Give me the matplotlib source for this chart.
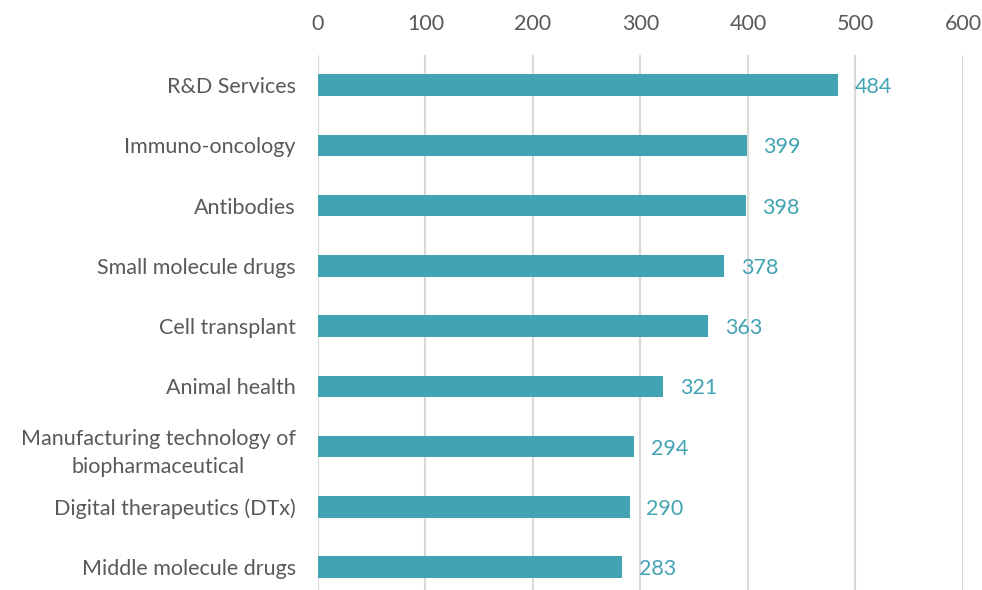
import matplotlib.pyplot as plt

plt.rcParams['font.family'] = ['Lato', 'DejaVu Sans']

# dados
categorias = ["R&D Services", "Immuno-oncology", "Antibodies", "Small molecule drugs",
              "Cell transplant", "Animal health",
              "Manufacturing technology of\nbiopharmaceutical",
              "Digital therapeutics (DTx)", "Middle molecule drugs"]
valores = [484, 399, 398, 378, 363, 321, 294, 290, 283]
ticks_x = [0, 100, 200, 300, 400, 500, 600]

cor_barra = "#42A3B3"
cor_texto = "#595959"
tam = 15.5

fig = plt.figure(figsize=(9.82, 5.90), dpi=100)
ax = fig.add_axes([0.3238, 0.0, 0.6568, 0.9068])

pos = list(range(len(categorias)))
ax.barh(pos, valores, height=0.36, color=cor_barra, zorder=3)

for p, v in zip(pos, valores):
    ax.annotate(str(v), (v, p), xytext=(12, -1.5), textcoords="offset points",
                ha="left", va="center", color=cor_barra, fontsize=tam, zorder=4)

ax.set_xlim(0, 600)
ax.set_ylim(8.38, -0.5)
ax.set_xticks(ticks_x)
ax.set_yticks(pos)
ax.set_yticklabels(categorias)
ax.xaxis.tick_top()
ax.tick_params(axis="x", length=0, pad=15, labelsize=tam, labelcolor=cor_texto)
ax.tick_params(axis="y", length=0, pad=16, labelsize=tam, labelcolor=cor_texto)
for lab in ax.get_yticklabels():
    lab.set_multialignment("center")
    lab.set_linespacing(1.5)

ax.grid(axis="x", color="#D9D9D9", linewidth=1.5, zorder=0)
for s in ax.spines.values():
    s.set_visible(False)

plt.savefig("out.png", dpi=100)
